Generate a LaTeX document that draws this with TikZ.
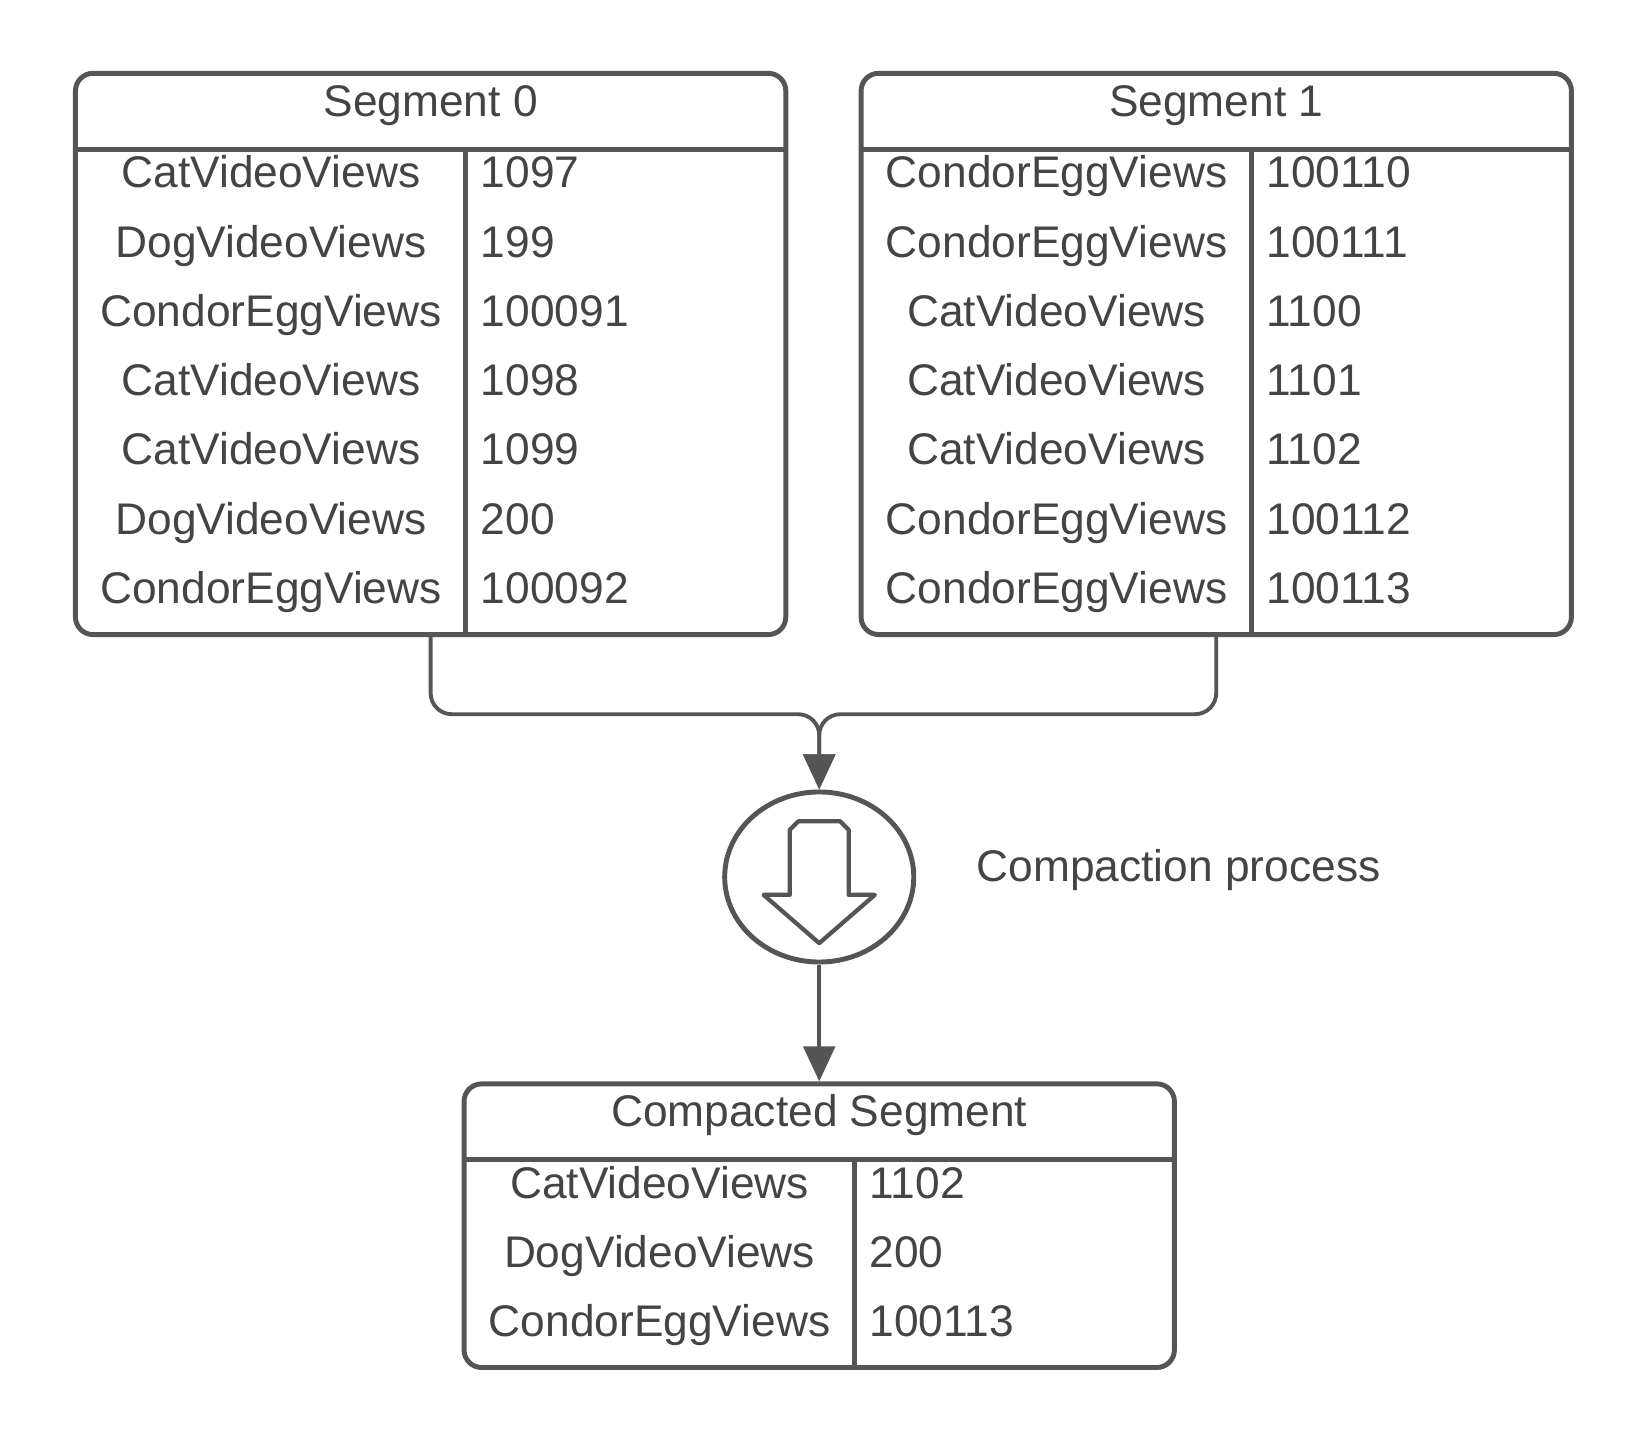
\documentclass[tikz,border=0pt]{standalone}
\usepackage{fontspec}
\setmainfont{Liberation Sans}
\usetikzlibrary{arrows.meta,positioning,shapes.geometric}
\definecolor{ink}{HTML}{555555}
\begin{document}
\begin{tikzpicture}
        [x=0.0105cm,y=-0.0105cm,
          every node/.style={text=ink!80!black,font=\fontsize{12.6}{15}\selectfont,text height=0.72em,text depth=0.2em},
          box/.style={draw=ink,line width=1.4pt,rounded corners=5pt,minimum width=7.1cm,inner sep=0pt},
          rule/.style={draw=ink,line width=1.4pt},
          link/.style={draw=ink,line width=1.1pt,rounded corners=6pt,-{Triangle[length=10pt,width=9pt]}}]
        \useasboundingbox (0,0) rectangle (1571,1377);
        % segments
        \node[box,minimum height=5.61cm,text height=,text depth=] (seg0) at (410,337) {};
        \node[box,minimum height=5.61cm,text height=,text depth=] (seg1) at (1158,337) {};
        \node[box,minimum height=2.835cm,text height=,text depth=] (comp) at (780,1167) {};
        \node (h0) at (410,102) {Segment 0};
        \node (h1) at (1158,102) {Segment 1};
        \node (h2) at (780,1064) {Compacted Segment};
        \draw[rule] (72,142) -- (748,142) (443,142) -- (443,604);
        \draw[rule] (820,142) -- (1497,142) (1192,142) -- (1192,604);
        \draw[rule] (442,1104) -- (1118,1104) (814,1104) -- (814,1302);
        \foreach \k/\v [count=\i] in {CatVideoViews/1097,DogVideoViews/199,CondorEggViews/100091,CatVideoViews/1098,CatVideoViews/1099,DogVideoViews/200,CondorEggViews/100092}
          {\node at (258,104+66*\i) {\k};
           \node[anchor=west] at (446,104+66*\i) {\v};}
        \foreach \k/\v [count=\i] in {CondorEggViews/100110,CondorEggViews/100111,CatVideoViews/1100,CatVideoViews/1101,CatVideoViews/1102,CondorEggViews/100112,CondorEggViews/100113}
          {\node at (1006,104+66*\i) {\k};
           \node[anchor=west] at (1194,104+66*\i) {\v};}
        \foreach \k/\v [count=\i] in {CatVideoViews/1102,DogVideoViews/200,CondorEggViews/100113}
          {\node at (628,1066+66*\i) {\k};
           \node[anchor=west] at (816,1066+66*\i) {\v};}
        % compaction
        \node[ellipse,draw=ink,line width=1.4pt,minimum width=1.89cm,minimum height=1.7cm,text height=,text depth=] (proc) at (780,835) {};
        \draw[ink,line width=1.2pt,line join=round] (760,782) -- (800,782) -- (808,790) -- (808,852) -- (833,852) -- (780,898) -- (727,852) -- (752,852) -- (752,790) -- cycle;
        \node[anchor=west] (lbl) at (918,831) {Compaction process};
        \coordinate (join) at (780,680);
        \draw[link] (seg0.south) |- (join) -- (proc.north);
        \draw[link] (seg1.south) |- (join) -- (proc.north);
        \draw[link] (proc.south) -- (comp.north);
\end{tikzpicture}
\end{document}
